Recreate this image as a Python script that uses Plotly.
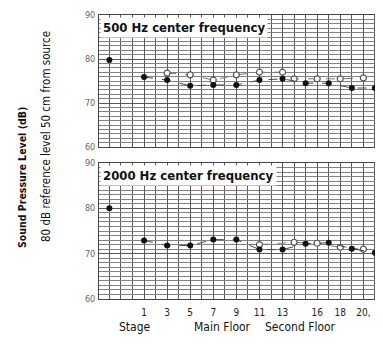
import plotly.graph_objects as go
from plotly.subplots import make_subplots

# ── Data ────────────────────────────────────────────────────────────────────
STAGE_X = [-2]
STAGE_500 = [79.8]
STAGE_2000 = [80.0]

MAIN_X = [1, 3, 5, 7, 9, 11, 13, 15, 17, 19, 21]
MAIN_500 = [75.9, 75.2, 73.9, 74.1, 74.1, 75.2, 75.5, 74.5, 74.5, 73.4, 73.4]
MAIN_2000 = [72.9, 71.8, 71.8, 73.1, 73.1, 70.9, 70.9, 72.2, 72.4, 71.1, 70.2]

OPEN_X_500 = [3, 5, 7, 9, 11, 13, 14, 16, 18, 20]
OPEN_500 = [76.8, 76.4, 75.2, 76.4, 77.0, 77.0, 75.5, 75.5, 75.5, 75.7]
OPEN_X_2000 = [11, 14, 16, 18, 20]
OPEN_2000 = [72.0, 72.5, 72.3, 71.4, 71.0]

TICK_VALS = [1, 3, 5, 7, 9, 11, 13, 16, 18, 20]
TICK_TEXT = ["1", "3", "5", "7", "9", "11", "13", "16", "18", "20,"]
Y_TICKS = [60, 70, 80, 90]

# ── Theme ───────────────────────────────────────────────────────────────────
FONT = "DejaVu Sans Condensed, Liberation Sans Narrow, DejaVu Sans, sans-serif"
OFF = 8                      # page body margin of the html output
W, H = 383 - OFF, 345 - OFF
L, T = 99 - OFF, 15 - OFF
B = H - (299 - OFF)
R = 0
PLOT_H = H - T - B
PLOT_W = W - L - R
GRID_X = "#5a5a5a"
GRID_Y = "#828282"
LINE_CLR = "#4a4a4a"


def px2x(px):
    # page pixel -> paper fraction
    return (px - OFF - L) / PLOT_W


def px2y(py):
    return (H - B - (py - OFF)) / PLOT_H


fig = make_subplots(rows=2, cols=1, shared_xaxes=False)

panels = [
    (1, STAGE_500, MAIN_500, OPEN_X_500, OPEN_500),
    (2, STAGE_2000, MAIN_2000, OPEN_X_2000, OPEN_2000),
]
for row, stage, main, ox, oy in panels:
    fig.add_trace(go.Scatter(
        x=ox, y=oy, mode="lines+markers",
        line=dict(color="#777", width=1, dash="dash"),
        marker=dict(symbol="circle", size=6, color="white",
                    line=dict(color="#555", width=1.2)),
        showlegend=False,
    ), row=row, col=1)
    fig.add_trace(go.Scatter(
        x=MAIN_X, y=main, mode="lines+markers",
        line=dict(color=LINE_CLR, width=1, dash="dash"),
        marker=dict(symbol="circle", size=6, color="#111"),
        showlegend=False,
    ), row=row, col=1)
    fig.add_trace(go.Scatter(
        x=STAGE_X, y=stage, mode="markers",
        marker=dict(symbol="circle", size=6, color="#111"),
        showlegend=False,
    ), row=row, col=1)

x_common = dict(
    range=[-2.9, 21.7], tickvals=TICK_VALS, ticktext=TICK_TEXT,
    showgrid=True, gridcolor=GRID_X, gridwidth=1,
    minor=dict(dtick=1, tick0=0, showgrid=True, gridcolor=GRID_X, gridwidth=1),
    zeroline=False, showline=True, linecolor="#444", linewidth=1, mirror=True,
    ticks="", tickfont=dict(family=FONT, size=10, color="#222"),
)
y_common = dict(
    range=[60, 90], tickvals=Y_TICKS,
    showgrid=True, gridcolor=GRID_X, gridwidth=1,
    minor=dict(dtick=1, tick0=60, showgrid=True, gridcolor=GRID_Y, gridwidth=1),
    zeroline=False, showline=True, linecolor="#444", linewidth=1, mirror=True,
    ticks="", ticklabelstandoff=1,
    tickfont=dict(family=FONT, size=9, color="#666"),
)

fig.update_xaxes(**x_common)
fig.update_yaxes(**y_common)
fig.update_xaxes(showticklabels=False, row=1, col=1)
fig.update_xaxes(ticklabelstandoff=4, row=2, col=1)

fig.update_layout(
    width=W, height=H,
    paper_bgcolor="white", plot_bgcolor="white",
    margin=dict(l=L, r=R, t=T, b=B, autoexpand=False),
    font=dict(family=FONT, color="#222"),
    xaxis=dict(domain=[0, 1]),
    xaxis2=dict(domain=[0, 1]),
    yaxis=dict(domain=[px2y(147), 1]),
    yaxis2=dict(domain=[0, px2y(163)]),
)

# panel labels
for ref, text in [("", "500 Hz center frequency"), ("2", "2000 Hz center frequency")]:
    fig.add_annotation(
        text=text, xref=f"x{ref} domain", yref=f"y{ref} domain",
        x=0.004, y=0.985, xanchor="left", yanchor="top", showarrow=False,
        bgcolor="white", borderpad=2,
        font=dict(family=FONT, size=13, color="#111", weight="bold"),
    )

# y-axis titles
fig.add_annotation(
    text="<b>Sound Pressure Level (dB)</b>", xref="paper", yref="paper",
    x=px2x(14), y=px2y(178), textangle=-90, showarrow=False,
    font=dict(family=FONT, size=10.5, color="#111"),
)
fig.add_annotation(
    text="80 dB reference level 50 cm from source", xref="paper", yref="paper",
    x=px2x(37), y=px2y(137), textangle=-90, showarrow=False,
    font=dict(family=FONT, size=11.5, color="#111"),
)

# x group labels
for label, cx in [("Stage", 117), ("Main Floor", 222), ("Second Floor", 338)]:
    fig.add_annotation(
        text=label, xref="paper", yref="paper",
        x=px2x(cx), y=px2y(336), showarrow=False,
        font=dict(family=FONT, size=12, color="#111"),
    )

fig.write_html("out.html")
